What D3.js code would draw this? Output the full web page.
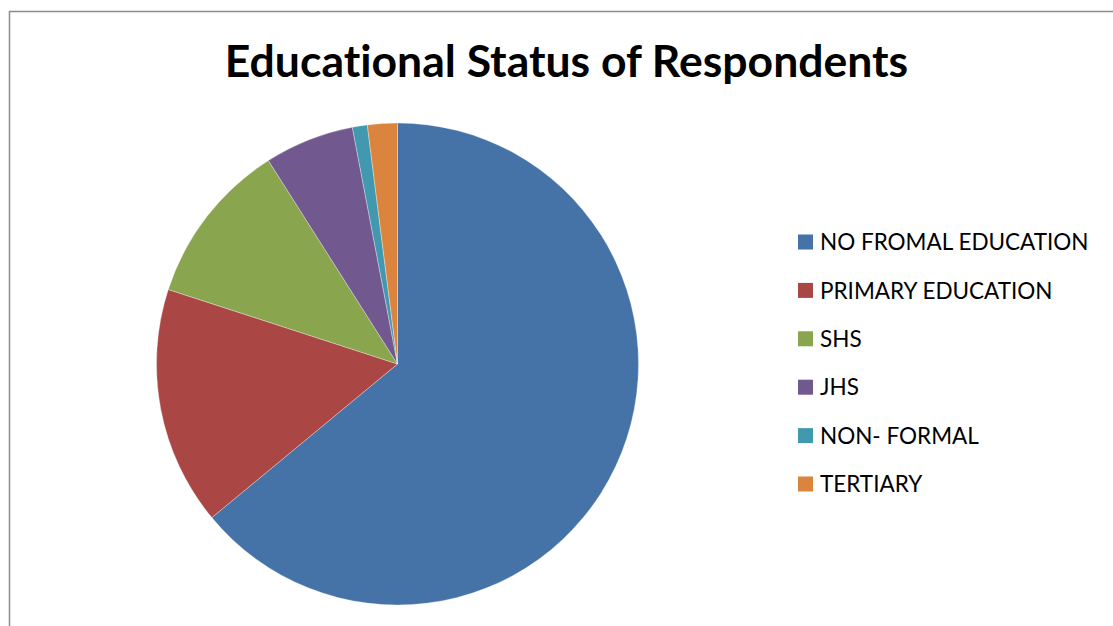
<!DOCTYPE html>
<html>
<head>
<meta charset="utf-8">
<script src="https://cdn.jsdelivr.net/npm/d3@7"></script>
<style>
  html, body { margin: 0; padding: 0; background: #fff; }
  svg { display: block; }
  text { font-variant-ligatures: none; }
</style>
</head>
<body>
<svg id="chart" width="1113" height="626"></svg>
<script>
// Educational status of respondents (percent of respondents)
const categories = ["NO FROMAL EDUCATION", "PRIMARY EDUCATION", "SHS", "JHS", "NON- FORMAL", "TERTIARY"];
const values = [64, 16, 11, 6, 1, 2];
const colors = ["#4572A7", "#AA4643", "#89A54E", "#71588F", "#4198AF", "#DB843D"];
const title = "Educational Status of Respondents";

const svg = d3.select("#chart");
const W = 1113, H = 626;

// chart frame
svg.append("rect")
  .attr("x", 9.5).attr("y", 11.5)
  .attr("width", W + 10).attr("height", H + 10)
  .attr("fill", "#fff")
  .attr("stroke", "#8c8c8c")
  .attr("stroke-width", 1.5);

// title
svg.append("text")
  .attr("x", 566.5).attr("y", 77)
  .attr("text-anchor", "middle")
  .attr("font-family", "Lato, 'Open Sans', sans-serif")
  .attr("font-weight", "bold")
  .attr("font-size", 44.5)
  .attr("fill", "#000")
  .text(title);

// pie
const cx = 397.5, cy = 364, r = 241;
const data = categories.map((c, i) => ({ name: c, value: values[i], color: colors[i] }));
const pie = d3.pie().value(d => d.value).sort(null);
const arc = d3.arc().innerRadius(0).outerRadius(r);

svg.append("g")
  .attr("transform", `translate(${cx},${cy})`)
  .selectAll("path")
  .data(pie(data))
  .join("path")
  .attr("d", arc)
  .attr("fill", d => d.data.color)
  .attr("stroke", "#ffffff")
  .attr("stroke-opacity", 0.45)
  .attr("stroke-width", 0.7);

// legend
const legendY = d3.scalePoint().domain(categories).range([242, 484]);
const legend = svg.append("g")
  .selectAll("g")
  .data(data)
  .join("g")
  .attr("transform", d => `translate(798,${legendY(d.name)})`);

legend.append("rect")
  .attr("x", 0).attr("y", -7.5)
  .attr("width", 15).attr("height", 15)
  .attr("fill", d => d.color);

legend.append("text")
  .attr("x", 22).attr("y", 0)
  .attr("dy", "0.36em")
  .attr("font-family", "Lato, 'Open Sans', sans-serif")
  .attr("font-size", 22.5)
  .attr("fill", "#000")
  .text(d => d.name);
</script>
</body>
</html>
